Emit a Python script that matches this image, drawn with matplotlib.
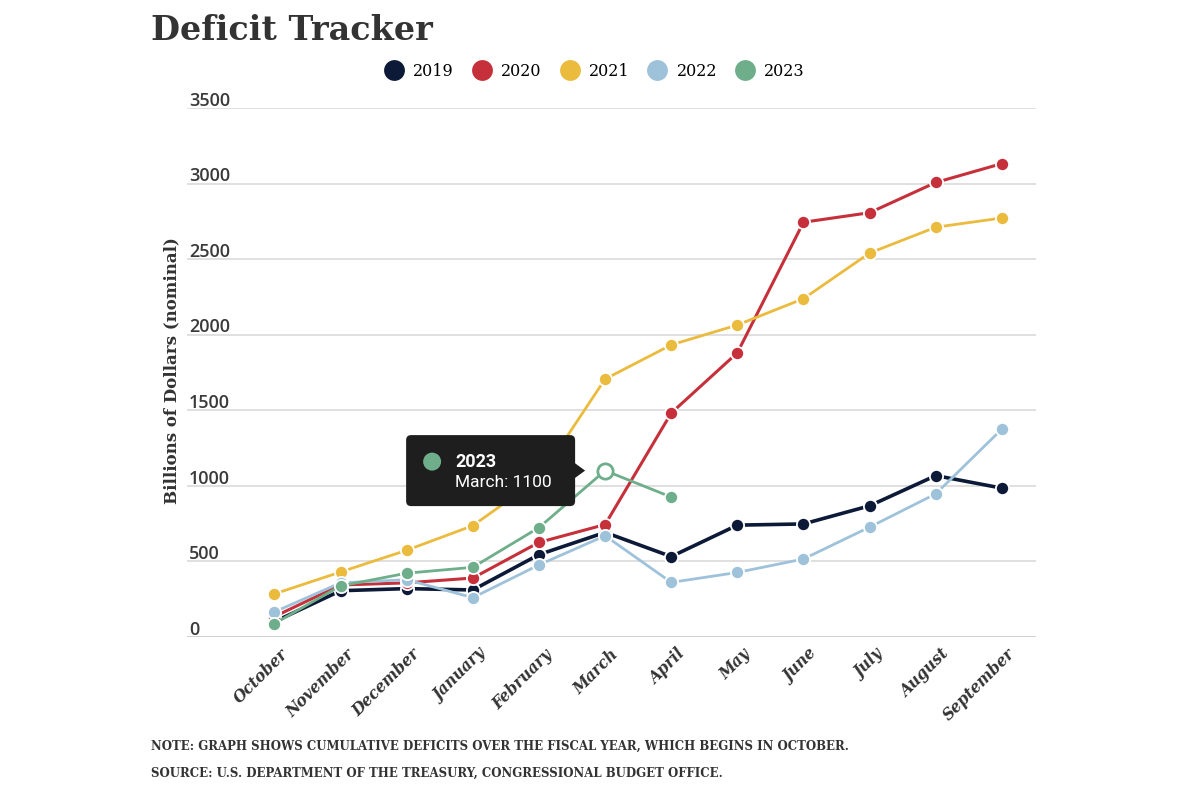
import matplotlib.pyplot as plt
import matplotlib.patches as mpatches
import matplotlib.transforms as mtransforms
from matplotlib.lines import Line2D

# cumulative deficit over the fiscal year, billions of dollars
months = ["October", "November", "December", "January", "February", "March",
          "April", "May", "June", "July", "August", "September"]
years = ["2019", "2020", "2021", "2022", "2023"]
deficit_2019 = [100, 305, 319, 310, 544, 691, 531, 739, 747, 867, 1067, 984]
deficit_2020 = [134, 343, 357, 389, 625, 743, 1481, 1880, 2744, 2807, 3007, 3132]
deficit_2021 = [284, 429, 573, 736, 1047, 1706, 1932, 2064, 2238, 2540, 2711, 2772]
deficit_2022 = [165, 357, 378, 259, 476, 669, 360, 426, 515, 726, 946, 1375]
deficit_2023 = [88, 337, 421, 460, 723, 1100, 925]
yticks = [0, 500, 1000, 1500, 2000, 2500, 3000, 3500]
highlight_month = "March"

series = [deficit_2019, deficit_2020, deficit_2021, deficit_2022, deficit_2023]
colors = ["#0c1a38", "#c6303a", "#ebbb3e", "#9fc2db", "#6eae8a"]
widths = [2.6, 2.2, 2.0, 2.0, 2.0]

fig = plt.figure(figsize=(12, 8), dpi=100)
ax = fig.add_axes([0.156, 0.204, 0.707, 0.661])

for i, (year, values) in enumerate(zip(years, series)):
    ax.plot(range(len(values)), values, color=colors[i], linewidth=widths[i],
            marker="o", markersize=9.5, markeredgecolor="white",
            markeredgewidth=1.3, label=year, zorder=3 + i, clip_on=False)

# hovered point
hi = months.index(highlight_month)
hv = deficit_2023[hi]
ax.plot(hi, hv, marker="o", markersize=11, markerfacecolor="white",
        markeredgecolor=colors[4], markeredgewidth=2, zorder=10, clip_on=False)

ax.set_xlim(-1.32, 11.51)
ax.set_ylim(0, 3500)
for s in ax.spines.values():
    s.set_visible(False)

ax.set_yticks(yticks)
ax.set_yticklabels([])
ax.yaxis.grid(True, color="#dadada", linewidth=1.2)
ax.set_axisbelow(True)
ax.tick_params(left=False, bottom=False)
ax.axhline(0, color="#d0d0d0", linewidth=2, zorder=1)

ytrans = mtransforms.blended_transform_factory(ax.transAxes, ax.transData)
for v in yticks:
    ax.text(0.002, v - 12, str(v), transform=ytrans, ha="left", va="bottom",
            fontsize=13, family="Open Sans", fontweight="semibold", color="#3a3a3a")

ax.set_xticks(range(len(months)))
ax.set_xticklabels(months, rotation=45, ha="right", rotation_mode="anchor",
                   family="DejaVu Serif", style="italic", fontweight="bold",
                   fontsize=11.2, color="#333333")
ax.tick_params(axis="x", pad=3)
for lbl in ax.get_xticklabels():
    lbl.set_transform(lbl.get_transform() + mtransforms.ScaledTranslation(0.05, 0, fig.dpi_scale_trans))

fig.text(0.1435, 0.537, "Billions of Dollars (nominal)", rotation=90,
         ha="center", va="center", family="DejaVu Serif", fontweight="bold",
         fontsize=12, color="#333333")

# tooltip box, placed in pixel offsets from the hovered point
tip = fig.dpi_scale_trans + mtransforms.ScaledTranslation(hi, hv, ax.transData)
box = mpatches.FancyBboxPatch((-1.99, -0.355), 1.69, 0.71,
                              boxstyle="round,pad=0,rounding_size=0.05",
                              facecolor="#1e1e1e", edgecolor="none",
                              transform=tip, zorder=20)
fig.add_artist(box)
arrow = mpatches.Polygon([(-0.31, 0.08), (-0.2, 0.0), (-0.31, -0.08)],
                         closed=True, facecolor="#1e1e1e", edgecolor="none",
                         transform=tip, zorder=20)
fig.add_artist(arrow)
dot = mpatches.Circle((-1.73, 0.09), 0.09, facecolor=colors[4],
                      edgecolor="none", transform=tip, zorder=21)
fig.add_artist(dot)
fig.text(-1.5, 0.09, years[4], transform=tip, ha="left", va="center",
         family="Roboto", fontweight="bold", fontsize=13, color="white", zorder=22)
fig.text(-1.5, -0.12, f"{highlight_month}: {hv}", transform=tip, ha="left",
         va="center", family="Roboto", fontsize=12.5, color="white", zorder=22)

# legend
handles = [Line2D([], [], linestyle="none", marker="o", markersize=15,
                  markerfacecolor=c, markeredgecolor="none") for c in colors]
fig.legend(handles, years, loc="center", bbox_to_anchor=(0.493, 0.911),
           ncol=5, frameon=False, handletextpad=0.2, columnspacing=0.75,
           prop={"family": "DejaVu Serif", "size": 11.5})

fig.text(0.126, 0.962, "Deficit Tracker", ha="left", va="center",
         family="DejaVu Serif", fontweight="bold", fontsize=24, color="#333333")

fig.text(0.126, 0.067,
         "NOTE: GRAPH SHOWS CUMULATIVE DEFICITS OVER THE FISCAL YEAR, WHICH BEGINS IN OCTOBER.",
         ha="left", va="center", family="DejaVu Serif", fontweight="bold",
         fontsize=8.5, color="#333333")
fig.text(0.126, 0.034,
         "SOURCE: U.S. DEPARTMENT OF THE TREASURY, CONGRESSIONAL BUDGET OFFICE.",
         ha="left", va="center", family="DejaVu Serif", fontweight="bold",
         fontsize=8.5, color="#333333")

fig.savefig("out.png", dpi=100)
